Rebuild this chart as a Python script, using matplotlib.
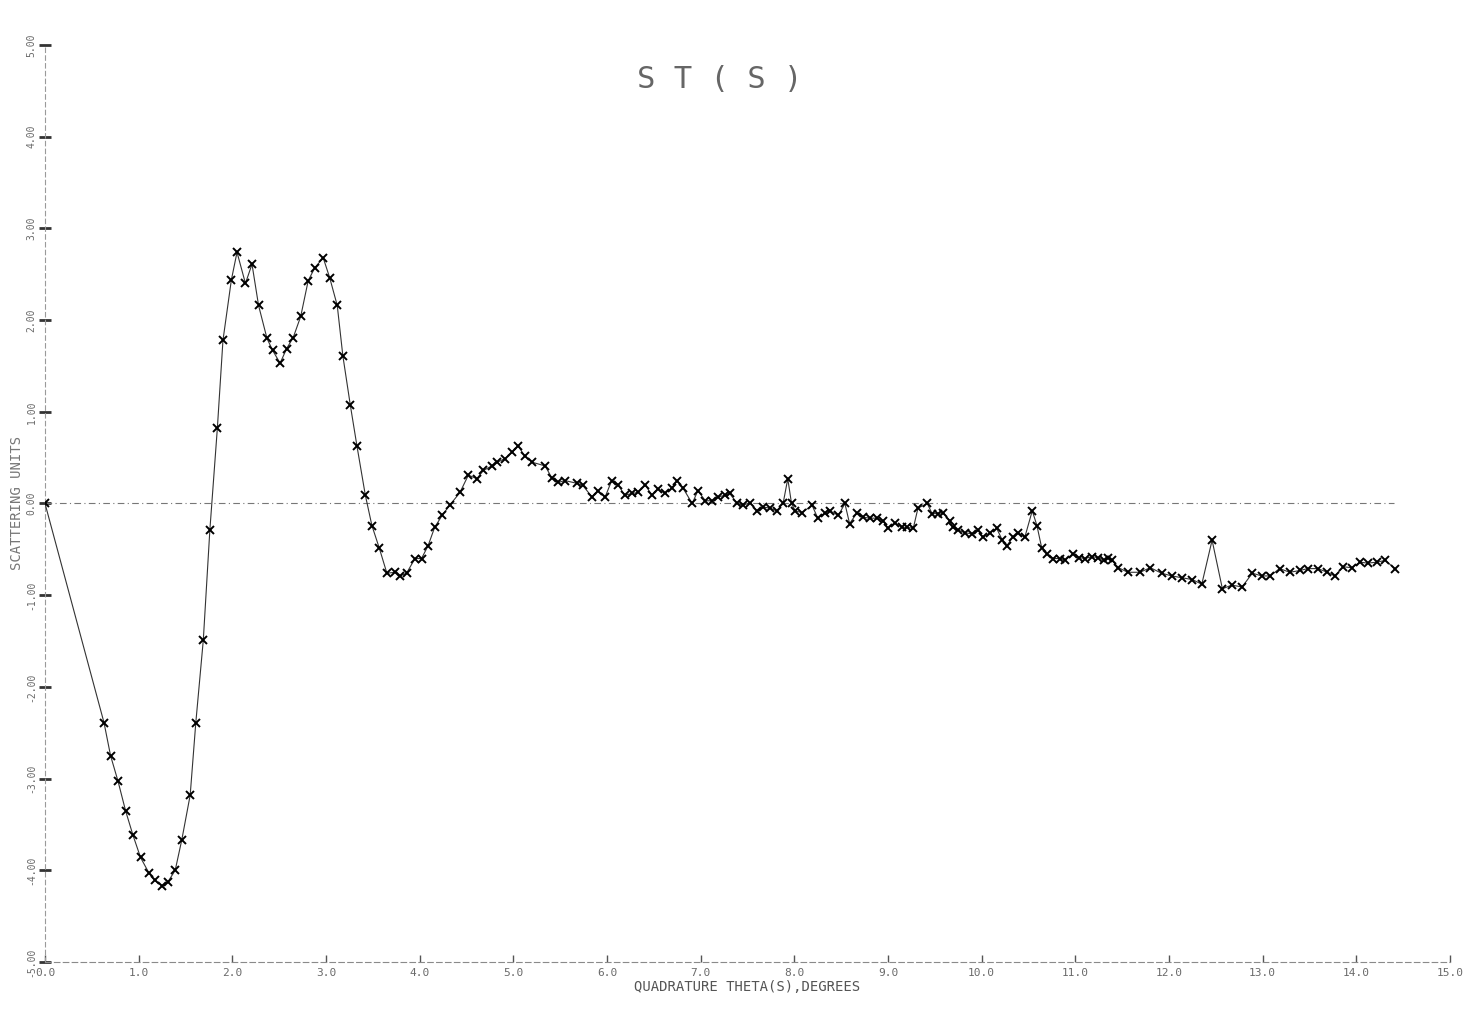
import matplotlib
matplotlib.use("Agg")
import matplotlib.pyplot as plt
import numpy as np

# ---- data ----
theta = [0.00, 0.63, 0.70, 0.78, 0.86, 0.94, 1.02, 1.11, 1.17, 1.25,
         1.31, 1.39, 1.46, 1.55, 1.61, 1.69, 1.76, 1.84, 1.90, 1.99,
         2.05, 2.14, 2.21, 2.28, 2.37, 2.43, 2.51, 2.58, 2.65, 2.73,
         2.81, 2.88, 2.97, 3.04, 3.12, 3.18, 3.26, 3.33, 3.42, 3.49,
         3.57, 3.65, 3.74, 3.79, 3.86, 3.95, 4.02, 4.09, 4.16, 4.24,
         4.32, 4.43, 4.52, 4.61, 4.68, 4.77, 4.83, 4.91, 4.99, 5.05,
         5.12, 5.20, 5.34, 5.41, 5.48, 5.55, 5.68, 5.74, 5.84, 5.90,
         5.98, 6.05, 6.12, 6.19, 6.27, 6.33, 6.41, 6.48, 6.54, 6.62,
         6.69, 6.75, 6.81, 6.91, 6.97, 7.05, 7.12, 7.18, 7.26, 7.31,
         7.39, 7.45, 7.53, 7.60, 7.67, 7.74, 7.81, 7.88, 7.93, 7.97,
         8.01, 8.08, 8.19, 8.25, 8.33, 8.38, 8.47, 8.54, 8.59, 8.67,
         8.73, 8.81, 8.88, 8.95, 9.00, 9.07, 9.15, 9.20, 9.27, 9.32,
         9.42, 9.47, 9.53, 9.59, 9.66, 9.69, 9.75, 9.82, 9.90, 9.96,
         10.01, 10.09, 10.16, 10.22, 10.27, 10.33, 10.39, 10.46, 10.54, 10.59,
         10.64, 10.70, 10.76, 10.84, 10.89, 10.97, 11.04, 11.10, 11.18, 11.24,
         11.31, 11.35, 11.39, 11.46, 11.56, 11.69, 11.80, 11.92, 12.03, 12.14,
         12.25, 12.35, 12.46, 12.57, 12.67, 12.78, 12.89, 12.99, 13.08, 13.18,
         13.29, 13.40, 13.48, 13.59, 13.69, 13.77, 13.86, 13.95, 14.04, 14.12,
         14.22, 14.31, 14.41]

st_values = [0.00, -2.39, -2.75, -3.03, -3.35, -3.62, -3.86, -4.03, -4.11, -4.17,
             -4.13, -4.00, -3.67, -3.18, -2.39, -1.49, -0.29, 0.82, 1.78, 2.44,
             2.74, 2.40, 2.61, 2.16, 1.80, 1.67, 1.53, 1.69, 1.81, 2.04,
             2.43, 2.57, 2.68, 2.46, 2.16, 1.61, 1.07, 0.63, 0.09, -0.24,
             -0.49, -0.76, -0.75, -0.79, -0.76, -0.60, -0.60, -0.46, -0.26, -0.13,
             -0.02, 0.12, 0.31, 0.27, 0.36, 0.41, 0.45, 0.49, 0.56, 0.63,
             0.52, 0.45, 0.41, 0.28, 0.23, 0.25, 0.22, 0.20, 0.07, 0.14,
             0.07, 0.25, 0.20, 0.09, 0.11, 0.12, 0.20, 0.09, 0.16, 0.11,
             0.17, 0.25, 0.17, 0.00, 0.14, 0.03, 0.03, 0.07, 0.09, 0.11,
             0.00, -0.02, 0.01, -0.08, -0.04, -0.05, -0.08, 0.00, 0.27, 0.00,
             -0.08, -0.10, -0.02, -0.16, -0.10, -0.08, -0.13, 0.00, -0.22, -0.10,
             -0.15, -0.16, -0.16, -0.19, -0.27, -0.21, -0.26, -0.26, -0.27, -0.05,
             0.00, -0.11, -0.11, -0.10, -0.19, -0.26, -0.29, -0.32, -0.33, -0.29,
             -0.37, -0.32, -0.27, -0.40, -0.46, -0.37, -0.32, -0.37, -0.08, -0.24,
             -0.48, -0.55, -0.60, -0.60, -0.62, -0.55, -0.59, -0.60, -0.58, -0.59,
             -0.62, -0.59, -0.62, -0.70, -0.75, -0.75, -0.70, -0.76, -0.79, -0.81,
             -0.83, -0.88, -0.40, -0.93, -0.89, -0.91, -0.76, -0.79, -0.79, -0.71,
             -0.75, -0.73, -0.71, -0.71, -0.75, -0.79, -0.69, -0.70, -0.64, -0.65,
             -0.64, -0.62, -0.71]

x_ticks = list(range(0, 16))
x_tick_labels = [f"{v:.1f}" for v in x_ticks]
y_ticks = list(range(-5, 6))
y_tick_labels = [f"{v:.2f}" for v in y_ticks]

title_text = "S T ( S )"
x_label = "QUADRATURE THETA(S),DEGREES"
y_label = "SCATTERING UNITS"

n = min(len(theta), len(st_values))
theta = theta[:n]
st_values = st_values[:n]

# ---- figure ----
fig = plt.figure(figsize=(14.72, 10.10), dpi=100)
ax = fig.add_axes([45 / 1472, 48 / 1010, 1405 / 1472, 917 / 1010])
ax.set_xlim(0, 15)
ax.set_ylim(-5, 5)

mono = "DejaVu Sans Mono"
grey = "#6a6a6a"

# zero reference line
ax.hlines(0, 0, 14.4, colors="#777777", linestyles=(0, (6, 3, 1, 3)), linewidth=0.8)

# data
ax.plot(theta, st_values, color="#333333", linewidth=0.8, zorder=3)
ax.plot(theta, st_values, linestyle="none", marker="x", markersize=6,
        markeredgewidth=1.4, color="black", zorder=4)

# spines
for s in ["top", "right"]:
    ax.spines[s].set_visible(False)
ax.spines["left"].set_color("#9a9a9a")
ax.spines["left"].set_linewidth(0.8)
ax.spines["left"].set_linestyle((0, (4, 3)))
ax.spines["bottom"].set_color("#8a8a8a")
ax.spines["bottom"].set_linewidth(0.8)
ax.spines["bottom"].set_linestyle((0, (5, 3)))

ax.set_xticks(x_ticks)
ax.set_xticklabels(x_tick_labels, fontsize=8, color=grey, family=mono)
ax.tick_params(axis="x", direction="in", length=5, width=1.0, color="#555555", pad=4)

ax.set_yticks(y_ticks)
ax.set_yticklabels(y_tick_labels, fontsize=7, color=grey, family=mono,
                   rotation=90, va="center")
ax.tick_params(axis="y", direction="inout", length=8, width=2.0, color="#333333", pad=2)

ax.set_xlabel(x_label, fontsize=10, color="#555555", family=mono, labelpad=2)
ax.set_ylabel(y_label, fontsize=10, color="#777777", family=mono, labelpad=2)

fig.text(720 / 1472, 1 - 80 / 1010, title_text, fontsize=22, color="#666666",
         family=mono, ha="center", va="center")

fig.savefig("out.png", dpi=100)
